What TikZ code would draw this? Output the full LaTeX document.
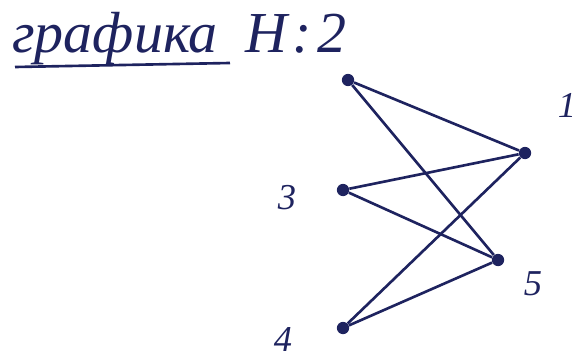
\documentclass[tikz,border=0pt]{standalone}
\usepackage{fontspec}
\setmainfont{Liberation Serif}
\definecolor{ink}{RGB}{30,35,95}
\begin{document}
\begin{tikzpicture}[x=0.02cm, y=-0.02cm, font=\huge\itshape, ink,
    vertex/.style={circle, fill=ink, inner sep=0pt, minimum size=7pt},
    edge/.style={draw=ink, line width=1.5pt},
    titlefont/.style={font=\fontsize{33}{36}\selectfont\itshape}]
        \useasboundingbox (0,0) rectangle (574,358);

        % Titulo
        \node[anchor=base west, titlefont, inner sep=0pt] (title) at (12,52) {графика};
        \node[anchor=base, titlefont, inner sep=0pt] (tH) at (266,52) {H};
        \node[anchor=base, titlefont, inner sep=0pt] (tc) at (302,52) {:};
        \node[anchor=base, titlefont, inner sep=0pt] (t2) at (332,52) {2};
        \draw[ink, line width=1.5pt] (15,67) -- (230,63);

        % Vertices
        \node[vertex] (v2) at (348,80) {};
        \node[vertex] (v1) at (525,153) {};
        \node[vertex] (v3) at (343,190) {};
        \node[vertex] (v5) at (498,260) {};
        \node[vertex] (v4) at (343,328) {};

        % Etiquetas
        \node (l1) at (567,105) {1};
        \node (l3) at (287,198) {3};
        \node (l5) at (533,284) {5};
        \node (l4) at (283,340) {4};

        % Aristas
        \draw[edge] (v2) -- (v1);
        \draw[edge] (v2) -- (v5);
        \draw[edge] (v3) -- (v1);
        \draw[edge] (v3) -- (v5);
        \draw[edge] (v4) -- (v1);
        \draw[edge] (v4) -- (v5);
    \end{tikzpicture}
\end{document}
